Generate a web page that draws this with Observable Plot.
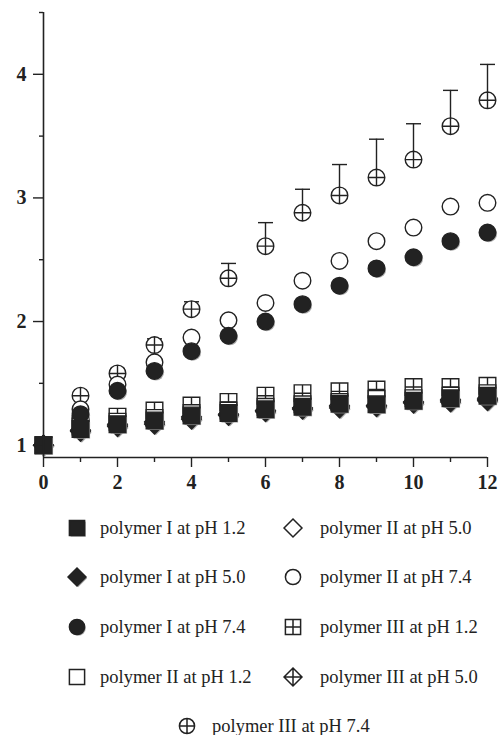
<!DOCTYPE html>
<html><head><meta charset="utf-8">
<script src="https://cdn.jsdelivr.net/npm/d3@7"></script>
<script src="https://cdn.jsdelivr.net/npm/@observablehq/plot@0.6"></script>
<style>
body{margin:0;background:#fff;}
#wrap{position:relative;width:502px;height:735px;overflow:hidden;}
.lt{position:absolute;font-family:"Liberation Serif","Times New Roman",serif;font-size:18.5px;color:#222;white-space:nowrap;transform:translateY(-50%);line-height:1;}
.lm{position:absolute;transform:translate(-50%,-50%);}
</style></head><body><div id="wrap"></div><script>
// ---- data ----
const days = [0,1,2,3,4,5,6,7,8,9,10,11,12];
const polyI_pH12   = [1.00,1.13,1.17,1.20,1.24,1.26,1.29,1.31,1.335,1.33,1.36,1.38,1.40];
const polyI_pH50   = [1.00,1.11,1.15,1.17,1.21,1.24,1.27,1.29,1.30,1.31,1.34,1.35,1.36];
const polyI_pH74   = [1.00,1.25,1.44,1.60,1.76,1.885,2.00,2.14,2.29,2.43,2.52,2.65,2.72];
const polyII_pH12  = [1.00,1.15,1.19,1.22,1.26,1.28,1.31,1.33,1.35,1.375,1.38,1.40,1.42];
const polyII_pH50  = [1.00,1.12,1.16,1.18,1.22,1.25,1.28,1.30,1.32,1.32,1.35,1.37,1.38];
const polyII_pH74  = [1.00,1.29,1.49,1.67,1.87,2.01,2.15,2.33,2.49,2.65,2.76,2.93,2.96];
const polyIII_pH12 = [1.00,1.17,1.23,1.28,1.32,1.35,1.40,1.42,1.435,1.45,1.47,1.47,1.48];
const polyIII_pH50 = [1.00,1.12,1.17,1.19,1.23,1.25,1.28,1.30,1.31,1.32,1.35,1.36,1.37];
const polyIII_pH74 = [1.00,1.40,1.58,1.81,2.10,2.35,2.61,2.88,3.02,3.165,3.31,3.58,3.79];
const polyIII_pH74_err = [0,0.03,0.04,0.05,0.06,0.12,0.19,0.19,0.25,0.31,0.29,0.29,0.29];
const seriesNames = ["polymer I at pH 1.2","polymer I at pH 5.0","polymer I at pH 7.4",
  "polymer II at pH 1.2","polymer II at pH 5.0","polymer II at pH 7.4",
  "polymer III at pH 1.2","polymer III at pH 5.0","polymer III at pH 7.4"];
const xTicks = [0,2,4,6,8,10,12];
const xMinor = [1,3,5,7,9,11];
const yTicks = [1,2,3,4];
const yMinor = [1.5,2.5,3.5,4.5];

// ---- symbols ----
function shape(kind){
  return {draw(ctx, size){
    const r = Math.sqrt(size/Math.PI);
    const base = kind.split("+")[0];
    const plus = kind.includes("+");
    let h = r;
    if (base==="square"){ ctx.moveTo(-r,-r); ctx.lineTo(r,-r); ctx.lineTo(r,r); ctx.lineTo(-r,r); ctx.closePath(); }
    else if (base==="diamond"){ h = r*1.18; ctx.moveTo(0,-h); ctx.lineTo(h,0); ctx.lineTo(0,h); ctx.lineTo(-h,0); ctx.closePath(); }
    else if (base==="circle"){ ctx.moveTo(r,0); ctx.arc(0,0,r,0,2*Math.PI); ctx.closePath(); }
    else if (base==="cap"){ ctx.moveTo(-r,0); ctx.lineTo(r,0); }
    if (plus){ ctx.moveTo(-h,0); ctx.lineTo(h,0); ctx.moveTo(0,-h); ctx.lineTo(0,h); }
  }};
}
const ink = "#222";
const series = [
  {name: seriesNames[0], values: polyI_pH12,   kind: "square",   filled: true},
  {name: seriesNames[1], values: polyI_pH50,   kind: "diamond",  filled: true},
  {name: seriesNames[2], values: polyI_pH74,   kind: "circle",   filled: true},
  {name: seriesNames[3], values: polyII_pH12,  kind: "square",   filled: false},
  {name: seriesNames[4], values: polyII_pH50,  kind: "diamond",  filled: false},
  {name: seriesNames[5], values: polyII_pH74,  kind: "circle",   filled: false},
  {name: seriesNames[6], values: polyIII_pH12, kind: "square+",  filled: false},
  {name: seriesNames[7], values: polyIII_pH50, kind: "diamond+", filled: false},
  {name: seriesNames[8], values: polyIII_pH74, kind: "circle+",  filled: false}
];
const R = 8.3;
const tables = series.map(s => days.map((d,i) => ({day: d, value: s.values[i]})));
const errTable = days.map((d,i) => ({day: d, value: polyIII_pH74[i], top: polyIII_pH74[i] + polyIII_pH74_err[i]})).filter(d => d.top > d.value);

const font = {fontFamily: "'Liberation Serif','Times New Roman',serif", fontSize: 20, fontWeight: "bold"};
const marks = [];
marks.push(Plot.ruleX(errTable, {x: "day", y1: "value", y2: "top", stroke: ink, strokeWidth: 1.4}));
marks.push(Plot.dot(errTable, {x: "day", y: "top", r: 7.5, symbol: shape("cap"), stroke: ink, strokeWidth: 1.4, fill: "none"}));
for (let k = series.length - 1; k >= 0; k--) {
  const s = series[k];
  if (s.filled) {
    marks.push(Plot.dot(tables[k], {x: "day", y: "value", r: R, symbol: shape(s.kind), fill: "#aaa", stroke: "none", dx: 1.3, dy: 1.3}));
  }
  marks.push(Plot.dot(tables[k], {x: "day", y: "value", r: R, symbol: shape(s.kind),
    fill: s.filled ? ink : "white", stroke: ink, strokeWidth: 1.4}));
}
marks.push(Plot.ruleX([0], {stroke: ink, strokeWidth: 1.6}));
marks.push(Plot.ruleY([0.9], {stroke: ink, strokeWidth: 1.6}));
marks.push(Plot.axisX(xTicks, {tickSize: 10, tickPadding: 7, stroke: ink, strokeWidth: 1.4, fill: ink, label: null, tickFormat: d => String(d), ...font}));
marks.push(Plot.axisX(xMinor, {tickSize: 5, tickFormat: () => "", stroke: ink, strokeWidth: 1.4, label: null}));
marks.push(Plot.axisY(yTicks, {tickSize: 10, tickPadding: 7, stroke: ink, strokeWidth: 1.4, fill: ink, label: null, tickFormat: d => String(d), ...font}));
marks.push(Plot.axisY(yMinor, {tickSize: 4, tickFormat: () => "", stroke: ink, strokeWidth: 1.4, label: null}));

const chart = Plot.plot({
  width: 502, height: 495,
  marginLeft: 43, marginRight: 15, marginTop: 12, marginBottom: 38,
  x: {domain: [0, 12]},
  y: {domain: [0.9, 4.5]},
  style: {fontFamily: "'Liberation Serif','Times New Roman',serif", fontSize: "20px", fontWeight: "bold", color: ink, background: "white", overflow: "visible"},
  marks
});
const wrap = document.getElementById("wrap");
wrap.appendChild(chart);
chart.style.position = "absolute"; chart.style.left = "0px"; chart.style.top = "0px";

// ---- legend ----
const legendPos = [
  {mx: 77, tx: 100, y: 528}, {mx: 77, tx: 100, y: 577}, {mx: 77, tx: 100, y: 627}, {mx: 77, tx: 100, y: 677},
  {mx: 293, tx: 320, y: 528}, {mx: 293, tx: 320, y: 577}, {mx: 293, tx: 320, y: 627}, {mx: 293, tx: 320, y: 677},
  {mx: 187, tx: 212, y: 726}
];
series.forEach((s, k) => {
  const p = legendPos[k];
  const size = 24;
  const svg = d3.create("svg").attr("width", size).attr("height", size).attr("class", "lm")
    .style("left", p.mx + "px").style("top", p.y + "px");
  const rr = 7.6;
  if (s.filled) {
    svg.append("path").attr("transform", `translate(${size/2+1.2},${size/2+1.2})`)
      .attr("d", d3.symbol(shape(s.kind), rr*rr*Math.PI)()).attr("fill", "#aaa");
  }
  svg.append("path").attr("transform", `translate(${size/2},${size/2})`)
    .attr("d", d3.symbol(shape(s.kind), rr*rr*Math.PI)())
    .attr("fill", s.filled ? ink : "white").attr("stroke", ink).attr("stroke-width", 1.5);
  wrap.appendChild(svg.node());
  const t = document.createElement("div");
  t.className = "lt"; t.textContent = s.name;
  t.style.left = p.tx + "px"; t.style.top = p.y + "px";
  wrap.appendChild(t);
});
</script></body></html>
